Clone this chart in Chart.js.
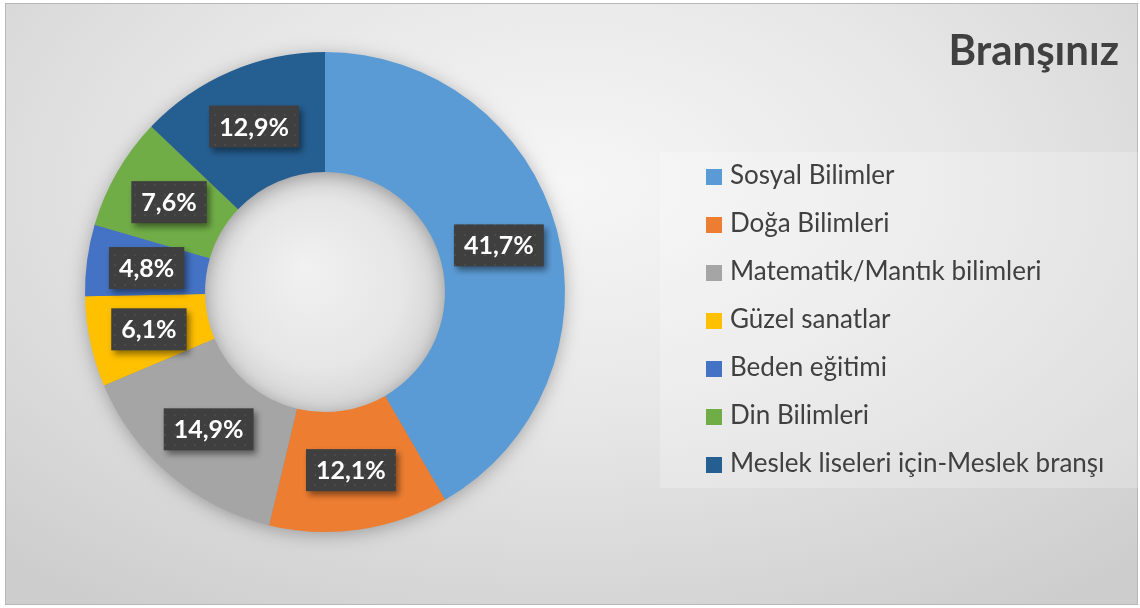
<!DOCTYPE html>
<html lang="tr">
<head>
<meta charset="utf-8">
<title>Branşınız</title>
<script src="https://cdn.jsdelivr.net/npm/chart.js@4.4.1/dist/chart.umd.min.js"></script>
<style>
    html, body { margin: 0; padding: 0; background: #ffffff; }
    #frame {
        position: absolute; left: 5px; top: 3px; width: 1131px; height: 600px;
        border: 1px solid #b8b8b8;
        background: radial-gradient(ellipse 75% 85% at 50% 30%, #f6f6f6 0%, #e7e7e7 45%, #cdcdcd 100%);
    }
    #wrap { position: absolute; left: 0; top: 0; width: 1140px; height: 608px; }
</style>
</head>
<body>
<div id="frame"></div>
<div id="wrap"><canvas id="chart" width="1140" height="608"></canvas></div>
<script>
// ── Data ─────────────────────────────────────────────────────────────────────

const TITLE = 'Branşınız';

const categories = [
    'Sosyal Bilimler',
    'Doğa Bilimleri',
    'Matematik/Mantık bilimleri',
    'Güzel sanatlar',
    'Beden eğitimi',
    'Din Bilimleri',
    'Meslek liseleri için-Meslek branşı'
];

const shares = [41.7, 12.1, 14.9, 6.1, 4.8, 7.6, 12.9];

const sliceColors = ['#5B9BD5', '#ED7D31', '#A5A5A5', '#FFC000', '#4472C4', '#70AD47', '#255E91'];

// ── Helpers ──────────────────────────────────────────────────────────────────

const TEXT_DARK = '#404040';

function pctLabel(v) {
    return v.toFixed(1).replace('.', ',') + '%';
}

function dottedPattern(ctx) {
    const tile = document.createElement('canvas');
    tile.width = 10; tile.height = 10;
    const t = tile.getContext('2d');
    t.fillStyle = '#3f3f3f';
    t.fillRect(0, 0, 10, 10);
    t.fillStyle = '#4b4b4b';
    t.fillRect(4, 4, 2, 2);
    return ctx.createPattern(tile, 'repeat');
}

// ── Plugin: hole shading, ring shadow, labels, legend, title ────────────────

const decor = {
    id: 'decor',

    beforeDatasetsDraw(chart) {
        const arcs = chart.getDatasetMeta(0).data;
        if (!arcs.length) return;
        const { x, y, innerRadius, outerRadius } = arcs[0];
        const ctx = chart.ctx;
        ctx.save();

        // hole
        const g = ctx.createRadialGradient(x - 20, y - 25, 0, x, y, innerRadius);
        g.addColorStop(0, '#f1f1f1');
        g.addColorStop(0.7, '#e6e6e6');
        g.addColorStop(1, '#d4d4d4');
        ctx.fillStyle = g;
        ctx.beginPath();
        ctx.arc(x, y, innerRadius + 1, 0, Math.PI * 2);
        ctx.fill();

        // soft shadow under the ring
        ctx.shadowColor = 'rgba(0,0,0,0.3)';
        ctx.shadowBlur = 18;
        ctx.shadowOffsetY = 3;
        ctx.fillStyle = '#8a8a8a';
        ctx.beginPath();
        ctx.arc(x, y, outerRadius - 1, 0, Math.PI * 2);
        ctx.arc(x, y, innerRadius + 1, 0, Math.PI * 2, true);
        ctx.fill();
        ctx.restore();
    },

    afterDatasetsDraw(chart) {
        const ctx = chart.ctx;
        const pattern = dottedPattern(ctx);
        const arcs = chart.getDatasetMeta(0).data;
        ctx.save();
        ctx.font = "bold 25px Lato";
        arcs.forEach((arc, i) => {
            const p = arc.tooltipPosition();
            const text = pctLabel(shares[i]);
            const w = ctx.measureText(text).width + 20;
            const h = 42;
            ctx.save();
            ctx.shadowColor = 'rgba(0,0,0,0.45)';
            ctx.shadowBlur = 6;
            ctx.shadowOffsetX = 3;
            ctx.shadowOffsetY = 4;
            ctx.fillStyle = pattern;
            ctx.fillRect(p.x - w / 2, p.y - h / 2, w, h);
            ctx.restore();
            ctx.fillStyle = '#ffffff';
            ctx.textAlign = 'center';
            ctx.textBaseline = 'alphabetic';
            ctx.fillText(text, p.x, p.y + 9);
        });
        ctx.restore();
    },

    afterDraw(chart) {
        const ctx = chart.ctx;
        const area = chart.chartArea;
        ctx.save();

        // legend panel
        const panelLeft = area.right + 10;
        ctx.fillStyle = 'rgba(255,255,255,0.22)';
        ctx.fillRect(panelLeft, 152, chart.width - 2 - panelLeft, 336);

        // legend items
        ctx.font = '26px Lato';
        ctx.textAlign = 'left';
        ctx.textBaseline = 'alphabetic';
        categories.forEach((name, i) => {
            const cy = 177 + i * 48;
            ctx.fillStyle = sliceColors[i];
            ctx.fillRect(panelLeft + 46, cy - 8, 16, 16);
            ctx.fillStyle = TEXT_DARK;
            ctx.fillText(name, panelLeft + 70, cy + 7);
        });

        // title
        ctx.font = 'bold 42px Lato';
        ctx.textAlign = 'right';
        ctx.fillStyle = TEXT_DARK;
        ctx.fillText(TITLE, 1119, 65);
        ctx.restore();
    }
};

// ── Chart ────────────────────────────────────────────────────────────────────

new Chart(document.getElementById('chart'), {
    type: 'doughnut',
    data: {
        labels: categories,
        datasets: [{
            data: shares,
            backgroundColor: sliceColors,
            borderWidth: 0
        }]
    },
    options: {
        responsive: false,
        animation: false,
        cutout: '50%',
        layout: { padding: { left: 0, right: 490, top: 52, bottom: 76 } },
        plugins: {
            legend: { display: false },
            tooltip: { enabled: false }
        }
    },
    plugins: [decor]
});
</script>
</body>
</html>
